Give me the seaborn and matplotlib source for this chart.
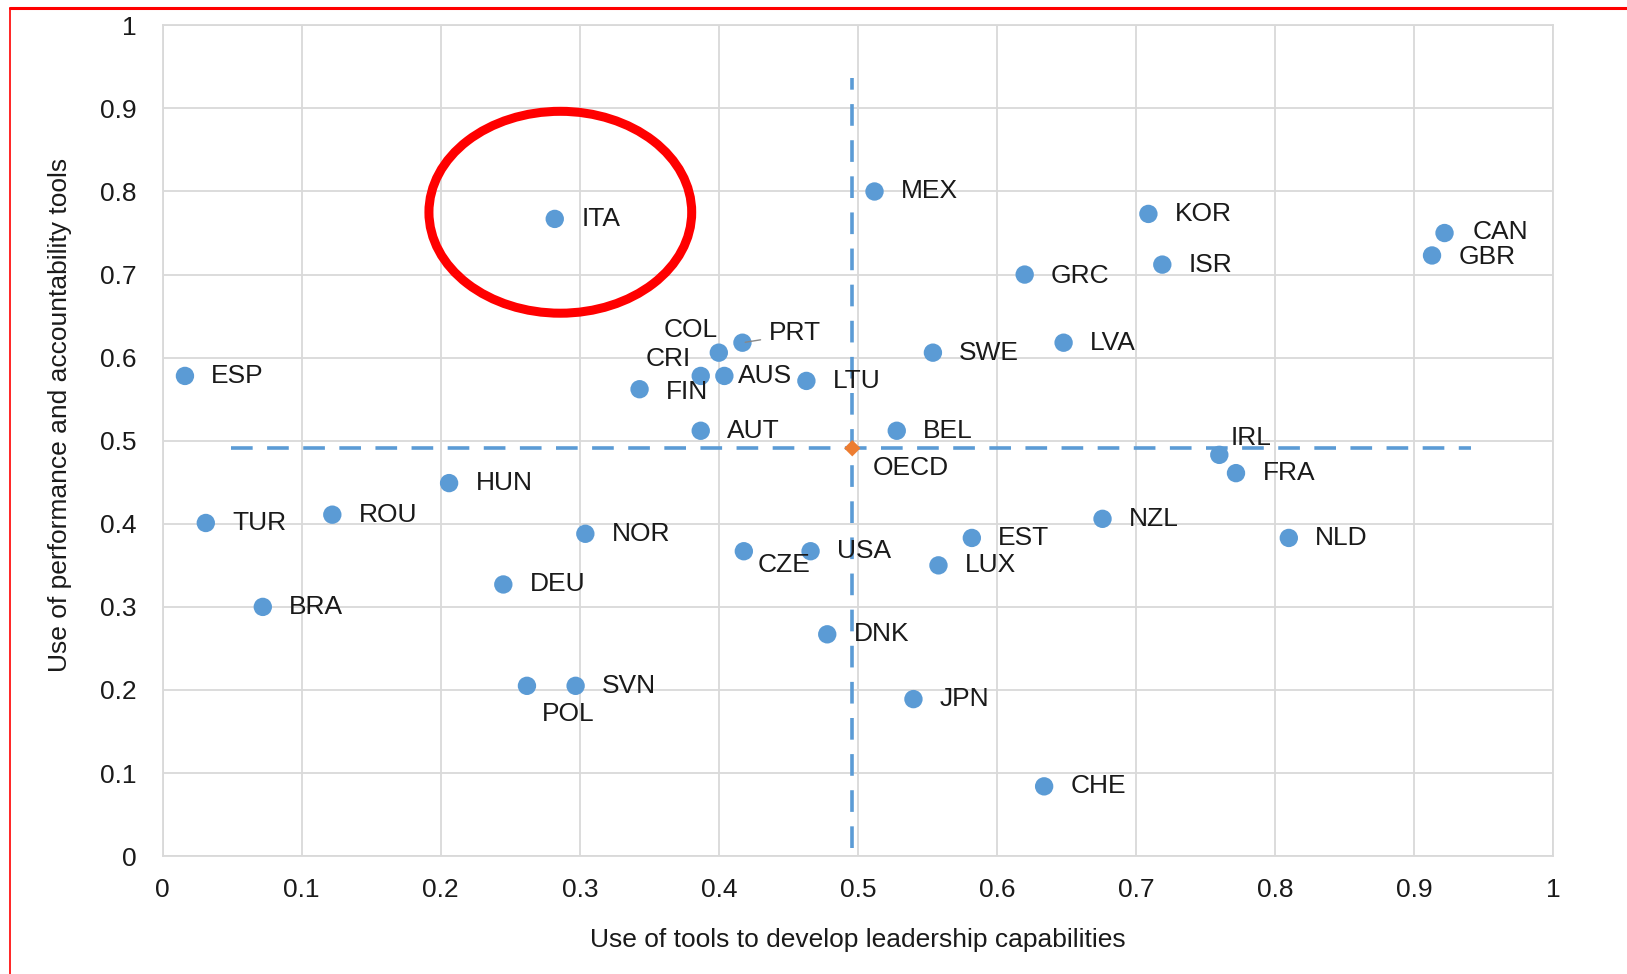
import matplotlib
matplotlib.use("Agg")
import matplotlib.pyplot as plt
import seaborn as sns
import pandas as pd
from matplotlib.patches import Ellipse
from matplotlib.lines import Line2D
from matplotlib import font_manager

# ---- data ----
countries = ["ITA", "ESP", "MEX", "KOR", "CAN", "GBR", "ISR", "GRC", "COL", "PRT",
             "CRI", "AUS", "FIN", "LTU", "SWE", "LVA", "AUT", "BEL", "IRL", "FRA",
             "HUN", "TUR", "ROU", "NOR", "NZL", "NLD", "EST", "LUX", "CZE", "USA",
             "DEU", "BRA", "DNK", "POL", "SVN", "JPN", "CHE"]
leadership = [0.282, 0.016, 0.512, 0.709, 0.922, 0.913, 0.719, 0.620, 0.400, 0.417,
              0.387, 0.404, 0.343, 0.463, 0.554, 0.648, 0.387, 0.528, 0.760, 0.772,
              0.206, 0.031, 0.122, 0.304, 0.676, 0.810, 0.582, 0.558, 0.418, 0.466,
              0.245, 0.072, 0.478, 0.262, 0.297, 0.540, 0.634]
performance = [0.767, 0.578, 0.800, 0.773, 0.750, 0.723, 0.712, 0.700, 0.606, 0.618,
               0.578, 0.578, 0.562, 0.572, 0.606, 0.618, 0.512, 0.512, 0.483, 0.461,
               0.449, 0.401, 0.411, 0.388, 0.406, 0.383, 0.383, 0.350, 0.367, 0.367,
               0.327, 0.300, 0.267, 0.205, 0.205, 0.189, 0.084]
oecd_x = [0.496]
oecd_y = [0.491]
ticks = [0, 0.1, 0.2, 0.3, 0.4, 0.5, 0.6, 0.7, 0.8, 0.9, 1]
tick_labels = ["0", "0.1", "0.2", "0.3", "0.4", "0.5", "0.6", "0.7", "0.8", "0.9", "1"]

df = pd.DataFrame({"country": countries, "x": leadership, "y": performance})

# ---- font ----
avail = {f.name for f in font_manager.fontManager.ttflist}
fam = "Liberation Sans Narrow" if "Liberation Sans Narrow" in avail else "Liberation Sans"

sns.set_theme(style="white")
plt.rcParams["font.family"] = [fam, "DejaVu Sans"]

fig = plt.figure(figsize=(16.27, 9.74), dpi=100)
ax = fig.add_axes([0.100, 0.121, 0.8545, 0.853])

blue = "#5B9BD5"
orange = "#ED7D31"

# reference lines (OECD average)
ax.plot([0.049, 0.941], [oecd_y[0], oecd_y[0]], color=blue, lw=2.6,
        dashes=(6, 4), zorder=2)
ax.plot([oecd_x[0], oecd_x[0]], [0.01, 0.936], color=blue, lw=2.6,
        dashes=(6, 4), zorder=2)

sns.scatterplot(data=df, x="x", y="y", ax=ax, color=blue, s=175,
                edgecolor="none", zorder=3, legend=False)
sns.scatterplot(x=oecd_x, y=oecd_y, ax=ax, color=orange, s=70,
                marker="D", edgecolor="none", zorder=4, legend=False)

# label offsets in points (dx, dy, ha)
default_off = (19, 0, "left")
offsets = {
    "COL": (-1, 16, "right"),
    "PRT": (19, 7, "left"),
    "CRI": (-7, 12, "right"),
    "AUS": (10, 0, "left"),
    "FIN": (19, -2, "left"),
    "IRL": (8, 12, "left"),
    "CZE": (10, -10, "left"),
    "POL": (11, -20, "left"),
    "CAN": (20, 1, "left"),
    "GRC": (19, -1, "left"),
    "GBR": (19, -1, "left"),
}
fs = 19
for c, xv, yv in zip(countries, leadership, performance):
    dx, dy, ha = offsets.get(c, default_off)
    ax.annotate(c, (xv, yv), xytext=(dx, dy), textcoords="offset points",
                ha=ha, va="center", fontsize=fs, color="#1a1a1a", zorder=5)
ax.annotate("OECD", (oecd_x[0], oecd_y[0]), xytext=(15, -14),
            textcoords="offset points", ha="left", va="center",
            fontsize=fs, color="#1a1a1a", zorder=5)
# PRT leader line
ax.annotate("", xy=(0.417, 0.618), xytext=(0.432, 0.622),
            arrowprops=dict(arrowstyle="-", color="#888888", lw=1))

# red highlight ellipse around ITA
ax.add_patch(Ellipse((0.286, 0.775), 0.189, 0.243, fill=False,
                     edgecolor="#FF0000", lw=6.5, zorder=6, clip_on=False))

ax.set_xlim(0, 1)
ax.set_ylim(0, 1)
ax.set_xticks(ticks)
ax.set_yticks(ticks)
ax.set_xticklabels(tick_labels, fontsize=fs)
ax.set_yticklabels(tick_labels, fontsize=fs)
ax.tick_params(axis="both", length=0, colors="#1a1a1a")
ax.tick_params(axis="x", pad=16)
ax.tick_params(axis="y", pad=19)
ax.grid(True, color="#D9D9D9", lw=1.3)
ax.set_axisbelow(True)
for sp in ax.spines.values():
    sp.set_color("#D9D9D9")
    sp.set_linewidth(1.3)

ax.set_xlabel("Use of tools to develop leadership capabilities", fontsize=fs,
              color="#1a1a1a")
ax.set_ylabel("Use of performance and accountability tools", fontsize=fs,
              color="#1a1a1a")
ax.xaxis.set_label_coords(0.5, -0.087)
ax.yaxis.set_label_coords(-0.065, 0.531)

# red border on the figure (top and left)
fig.add_artist(Line2D([0.0064, 1.0], [0.9915, 0.9915], color="#FF0000", lw=2.2,
                      transform=fig.transFigure))
fig.add_artist(Line2D([0.0064, 0.0064], [0.0, 0.9915], color="#FF0000", lw=1.2,
                      transform=fig.transFigure))

fig.savefig("out.png", dpi=100)
